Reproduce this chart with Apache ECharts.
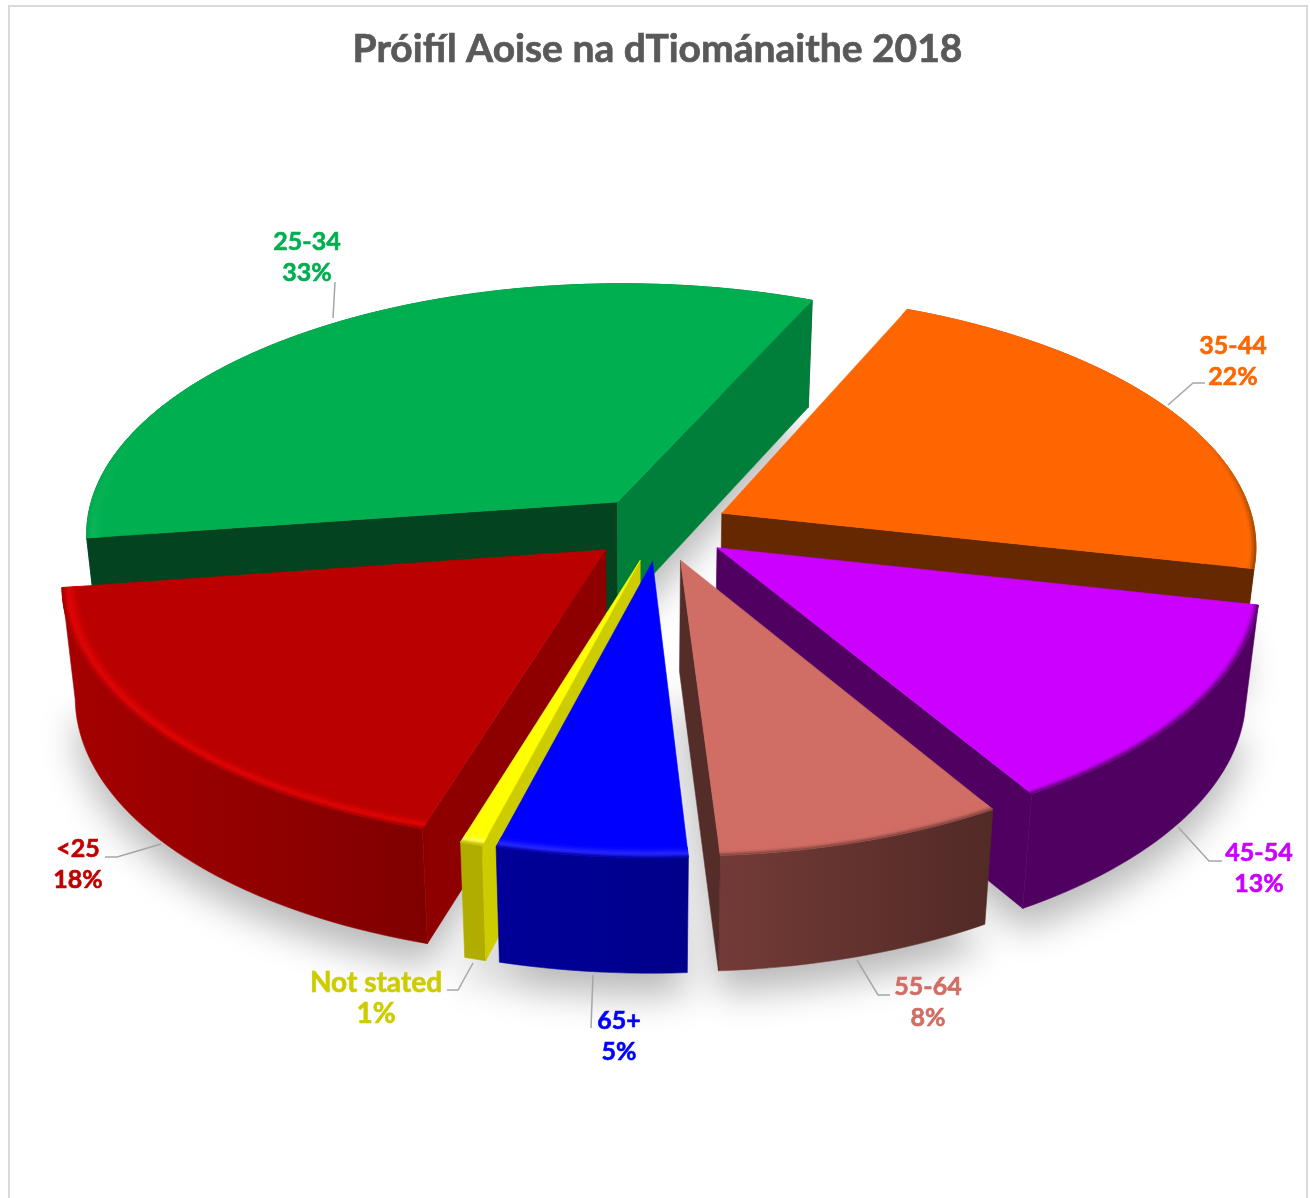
<!DOCTYPE html>
<html>
<head>
<meta charset="utf-8">
<style>html,body{margin:0;padding:0;background:#fff}#chart{width:1310px;height:1198px}</style>
<script src="https://cdn.jsdelivr.net/npm/echarts@6/dist/echarts.min.js"></script>
</head>
<body>
<div id="chart"></div>
<script>
// ---- data (clockwise order round the pie)
const categories = ['25-34', '35-44', '45-54', '55-64', '65+', 'Not stated', '<25'];
const shares = [33.49, 21.65, 12.8, 7.5, 4.95, 0.58, 17.83];
const titleText = 'Próifíl Aoise na dTiománaithe 2018';

// ---- styling, per category
const topColors   = ['#00AF50', '#FF6600', '#CC00FF', '#D06D64', '#0000FF', '#FFFF00', '#BB0000'];
const labelColors = ['#00AF50', '#FF6600', '#CC00FF', '#D06D64', '#0000FF', '#CCCC00', '#C00000'];
const rimColors   = ['#00a84c', '#8f4500', '#500060', '#7a403b', '#000099', '#b0ad00', '#a00000'];
const glowColors  = ['#0cb45a', '#ff6a05', '#cc00ff', '#d06d64', '#2a2aff', '#ffff50', '#e20606'];
const wallFrom    = ['#03431f', '#8f4500', '#500060', '#733b37', '#000099', '#b0ad00', '#a60000'];
const wallTo      = ['#03431f', '#6a2c00', '#500060', '#522a26', '#00008a', '#b0ad00', '#800000'];
const startWalls  = ['#03431f', '#662800', '#500060', '#542c28', '#000099', '#cccc00', '#8e0000'];
const endWalls    = ['#007F3A', '#662800', '#500060', '#542c28', '#000099', '#cccc00', '#8e0000'];
// order in which slices are painted, back to front
const paintOrder = [0, 1, 2, 3, 6, 5, 4];

// ---- label layout
const labelCentres = [[307, 257], [1233, 361], [1259, 868], [928, 1002], [619, 1036], [376, 998], [78, 864]];
const labelSizes = [25, 25, 25, 25, 25, 28, 25];
const leaderLines = [
  [[335, 282], [333, 318]],
  [[1205, 383], [1193, 383], [1168, 405]],
  [[1222, 861], [1209, 861], [1178, 827]],
  [[890, 995], [878, 995], [857, 960]],
  [[591, 1028], [593, 975]],
  [[447, 990], [458, 990], [473, 963]],
  [[105, 857], [117, 857], [161, 844]]
];

// ---- perspective view of the pie
const view = { cx: 659.5, cy: 528, A: 251, B: 533, k: 0.1226, explode: 0.132, depth: 111, depthPersp: 4, squeeze: 0.977, midX: 640, firstAngle: -98.3 };
const total = shares.reduce((a, b) => a + b, 0);
const rad = d => d * Math.PI / 180;
const startAngles = [];
shares.reduce((acc, v, i) => { startAngles[i] = view.firstAngle + acc / total * 360; return acc + v; }, 0);

function project(X, t) {
  const w = 1 - view.k * t;
  return [view.cx + view.B * X / w, view.cy + view.A * t / w, t];
}
function drop(p) {
  return [view.midX + (p[0] - view.midX) * view.squeeze, p[1] + view.depth + view.depthPersp * p[2]];
}
function rgb(h) { return [1, 3, 5].map(i => parseInt(h.substr(i, 2), 16)); }
function mixRgb(a, b, f) { return a.map((v, i) => v + (b[i] - v) * f); }
function css(c) { return 'rgb(' + c.map(Math.round).join(',') + ')'; }
// which side of the line a->b a point lies on
function side(a, b, p) { return (b[0] - a[0]) * (p[1] - a[1]) - (b[1] - a[1]) * (p[0] - a[0]); }

function sliceGeometry(i, value) {
  const a0 = startAngles[i], sweep = value / total * 360, mid = rad(a0 + sweep / 2);
  const ex = view.explode * Math.sin(mid), et = -view.explode * Math.cos(mid);
  const n = Math.max(4, Math.ceil(sweep / 1.5));
  const angle = s => rad(a0 + sweep * s / n);
  const arc = r => {
    const pts = [];
    for (let s = 0; s <= n; s++) pts.push(project(ex + r * Math.sin(angle(s)), et - r * Math.cos(angle(s))));
    return pts;
  };
  return { apex: project(ex, et), arc, n, angle };
}
const poly = (points, fill) => ({
  type: 'polygon', silent: true,
  shape: { points: points.map(p => [p[0], p[1]]) },
  style: { fill, stroke: fill, lineWidth: 0.6 }
});

function renderSlice(params, api) {
  const i = api.value(1), g = sliceGeometry(i, api.value(0));
  const rim = g.arc(1), apex = g.apex, apexB = drop(apex);
  const children = [];
  const first = rim[0], last = rim[rim.length - 1], inside = rim[Math.floor(rim.length / 2)];
  const xs = rim.map(p => p[0]);
  const grad = new echarts.graphic.LinearGradient(Math.min(...xs), 0, Math.max(...xs), 0,
    [{ offset: 0, color: wallFrom[i] }, { offset: 1, color: wallTo[i] }], true);
  children.push(poly(rim.concat(rim.map(drop).reverse()), grad));
  // a cut face shows only when its lower edge falls outside the top face
  const shows = edge => side(apex, edge, inside) * side(apex, edge, apexB) < 0;
  if (shows(first)) children.push(poly([apex, first, drop(first), apexB], startWalls[i]));
  if (shows(last)) children.push(poly([apex, last, drop(last), apexB], endWalls[i]));
  children.push(poly([apex].concat(rim), topColors[i]));
  // rounded rim of the top face: rings that fade out towards the back of the pie
  const rings = 7, width = 0.03;
  const topC = rgb(topColors[i]), rimC = rgb(rimColors[i]), glowC = rgb(glowColors[i]);
  for (let r = 0; r < rings; r++) {
    const f0 = r / rings, f1 = (r + 1) / rings, f = (f0 + f1) / 2;
    const outer = g.arc(1 - width * f0), inner = g.arc(1 - width * f1);
    const band = f < 0.4 ? mixRgb(rimC, glowC, f / 0.4) : mixRgb(glowC, topC, (f - 0.4) / 0.6);
    for (let s = 0; s < g.n; s++) {
      const facing = -Math.cos(g.angle(s + 0.5));            // 1 at the front, -1 at the back
      const k = Math.min(1, Math.max(0, (facing + 0.35) / 0.45));
      const col = css(mixRgb(topC, band, k));
      children.push(poly([outer[s], outer[s + 1], inner[s + 1], inner[s]], col));
    }
  }
  return { type: 'group', children };
}
function renderShadow(params, api) {
  const g = sliceGeometry(api.value(1), api.value(0));
  const pts = [g.apex].concat(g.arc(1)).map(drop);
  return {
    type: 'polygon', silent: true,
    shape: { points: pts },
    style: { fill: '#fff', shadowBlur: 36, shadowOffsetY: 22, shadowColor: 'rgba(0,0,0,0.28)' }
  };
}
function renderLabel(params, api) {
  const i = api.value(1), c = labelCentres[i];
  return {
    type: 'group', children: [
      { type: 'polyline', silent: true, shape: { points: leaderLines[i] }, style: { fill: 'none', stroke: '#a6a6a6', lineWidth: 1.5 } },
      { type: 'text', silent: true, x: c[0], y: c[1], style: {
        text: categories[i] + '\n' + Math.round(api.value(0)) + '%',
        fill: labelColors[i], stroke: labelColors[i], lineWidth: 0.6,
        font: 'bold ' + labelSizes[i] + 'px Lato, "Open Sans", sans-serif',
        align: 'center', verticalAlign: 'middle', lineHeight: 31 } }
    ]
  };
}

const sliceData = paintOrder.map(i => [shares[i], i]);
const chart = echarts.init(document.getElementById('chart'), null, { renderer: 'canvas' });
chart.setOption({
  animation: false,
  backgroundColor: '#fff',
  title: { text: titleText, left: 652.5, textAlign: 'center', top: 25,
    textStyle: { color: '#595959', fontSize: 39, fontWeight: 'bold', fontFamily: 'Lato, "Open Sans", sans-serif',
      textBorderColor: '#595959', textBorderWidth: 0.7 } },
  graphic: [{ type: 'rect', silent: true, z: -1, shape: { x: 9, y: 6, width: 1298, height: 1300 },
    style: { fill: 'none', stroke: '#d9d9d9', lineWidth: 2 } }],
  series: [
    { type: 'custom', name: 'shadow', coordinateSystem: 'none', z: 1, renderItem: renderShadow, data: sliceData, silent: true },
    { type: 'custom', name: 'slices', coordinateSystem: 'none', z: 2, renderItem: renderSlice, data: sliceData, silent: true },
    { type: 'custom', name: 'labels', coordinateSystem: 'none', z: 3, renderItem: renderLabel, data: sliceData, silent: true }
  ]
});
</script>
</body>
</html>
